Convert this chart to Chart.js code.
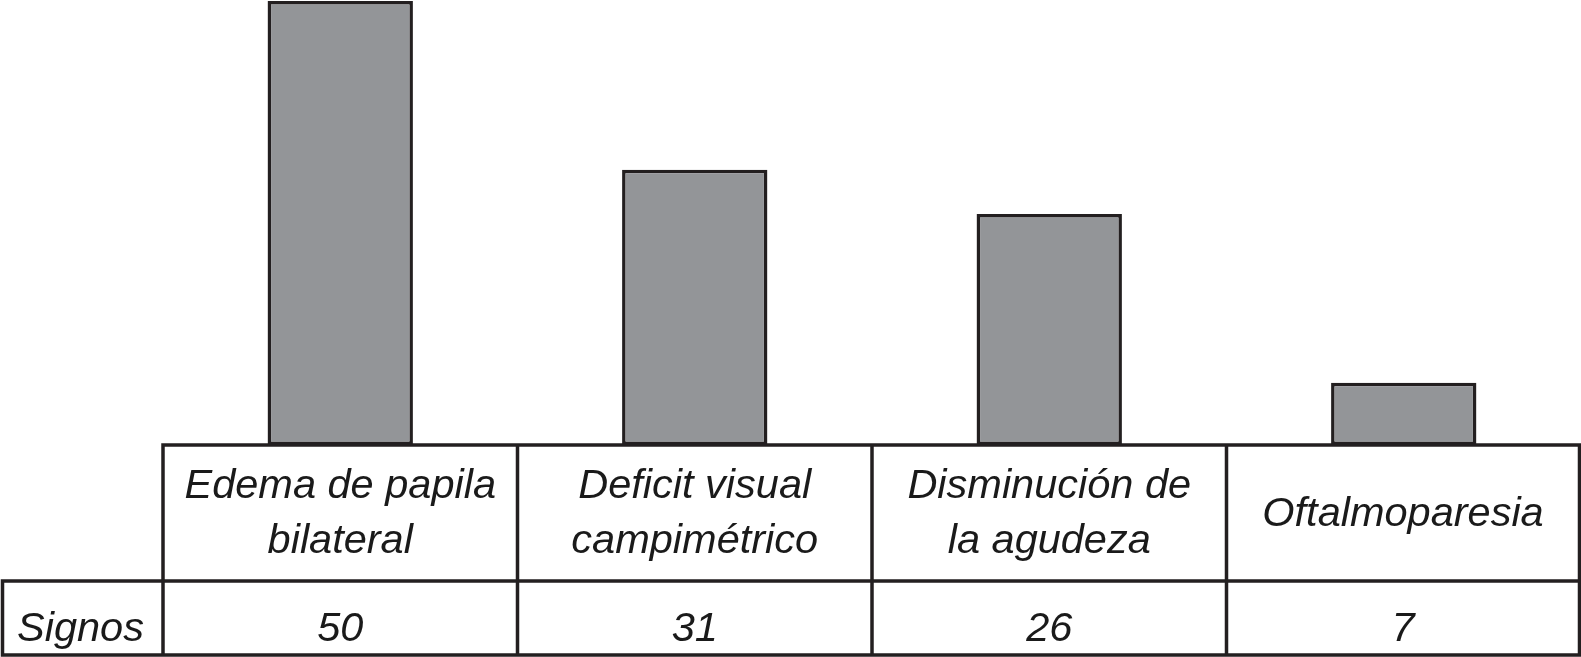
<!DOCTYPE html>
<html>
<head>
<meta charset="utf-8">
<script src="https://cdn.jsdelivr.net/npm/chart.js@4"></script>
<style>
html,body{margin:0;padding:0;background:#fff;}
canvas{display:block;}
</style>
</head>
<body>
<canvas id="c" width="1581" height="657"></canvas>
<script>
const categories = [
  ["Edema de papila", "bilateral"],
  ["Deficit visual", "campimétrico"],
  ["Disminución de", "la agudeza"],
  ["Oftalmoparesia"]
];
const seriesName = "Signos";
const signos = [50, 31, 26, 7];
const yMin = 0;
const yMax = 50;

const LINE = "#231f20";
const FONT = "italic 41.5px 'Liberation Sans', Arial, sans-serif";

const tablePlugin = {
  id: "dataTable",
  afterDraw(chart) {
    const ctx = chart.ctx;
    const area = chart.chartArea;
    const xs = chart.scales.x;
    const n = chart.data.labels.length;
    const centers = [];
    for (let i = 0; i < n; i++) centers.push(xs.getPixelForValue(i));
    const edges = [area.left];
    for (let i = 1; i < n; i++) edges.push((centers[i - 1] + centers[i]) / 2);
    edges.push(area.right - 1.5);

    const top = area.bottom;
    const mid = top + 136;
    const bot = top + 210;
    const leftX = 2.5;

    ctx.save();
    ctx.strokeStyle = LINE;
    ctx.lineWidth = 3.5;
    ctx.lineCap = "square";
    ctx.beginPath();
    ctx.moveTo(edges[0], bot); ctx.lineTo(edges[0], top);
    ctx.lineTo(edges[n], top); ctx.lineTo(edges[n], bot);
    ctx.moveTo(leftX, mid); ctx.lineTo(edges[n], mid);
    ctx.moveTo(leftX, bot); ctx.lineTo(edges[n], bot);
    ctx.moveTo(leftX, mid); ctx.lineTo(leftX, bot);
    for (let i = 1; i < n; i++) {
      ctx.moveTo(edges[i], top); ctx.lineTo(edges[i], bot);
    }
    ctx.stroke();

    ctx.fillStyle = "#1a1a1a";
    ctx.font = FONT;
    ctx.textAlign = "center";
    ctx.textBaseline = "alphabetic";
    const labels = chart.data.labels;
    for (let i = 0; i < n; i++) {
      const cx = (edges[i] + edges[i + 1]) / 2;
      const lines = Array.isArray(labels[i]) ? labels[i] : [labels[i]];
      if (lines.length === 1) {
        ctx.fillText(lines[0], cx, top + 81);
      } else {
        ctx.fillText(lines[0], cx, top + 53);
        ctx.fillText(lines[1], cx, top + 108);
      }
      ctx.fillText(String(chart.data.datasets[0].data[i]), cx, top + 196);
    }
    ctx.textAlign = "left";
    ctx.fillText(chart.data.datasets[0].label, 17, top + 196);
    ctx.restore();
  }
};

new Chart(document.getElementById("c"), {
  type: "bar",
  data: {
    labels: categories,
    datasets: [{
      label: seriesName,
      data: signos,
      backgroundColor: "#939598",
      borderColor: LINE,
      borderWidth: 3.5,
      borderSkipped: false,
      categoryPercentage: 1,
      barPercentage: 0.41
    }]
  },
  options: {
    responsive: false,
    devicePixelRatio: 1,
    animation: false,
    layout: { padding: { left: 163, right: 0, top: 1, bottom: 212 } },
    plugins: { legend: { display: false }, tooltip: { enabled: false } },
    scales: {
      x: { display: false, grid: { display: false } },
      y: { display: false, min: yMin, max: yMax, grid: { display: false } }
    }
  },
  plugins: [tablePlugin]
});
</script>
</body>
</html>
